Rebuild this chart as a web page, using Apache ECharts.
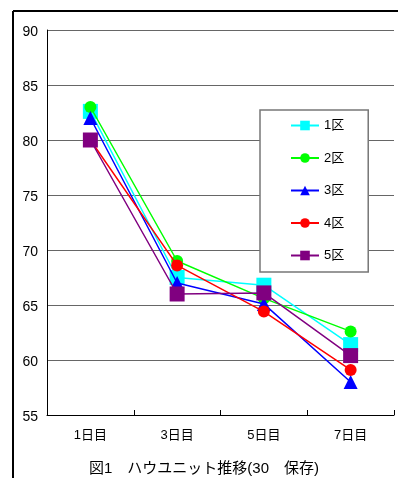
<!DOCTYPE html>
<html><head><meta charset="utf-8">
<script src="https://cdn.jsdelivr.net/npm/echarts@6/dist/echarts.min.js"></script>
<style>html,body{margin:0;padding:0;background:#fff}#c{width:398px;height:478px}</style>
</head><body><div id="c"></div>
<script>
const categories = ['1日目', '3日目', '5日目', '7日目'];
const seriesNames = ['1区', '2区', '3区', '4区', '5区'];
const s1 = [82.6, 67.5, 66.8, 61.4];
const s2 = [83.0, 69.0, 65.6, 62.6];
const s3 = [82.0, 67.0, 65.1, 58.0];
const s4 = [80.0, 68.6, 64.4, 59.1];
const s5 = [80.0, 66.0, 66.1, 60.4];
const yTicks = [55, 60, 65, 70, 75, 80, 85, 90];
const titleText = '図1　ハウユニット推移(30　保存)';

const FONT = "'Liberation Sans','Noto Sans CJK JP',sans-serif";
const colors = ['#00FFFF', '#00FF00', '#0000FF', '#FF0000', '#800080'];
const symbols = ['rect', 'circle', 'triangle', 'circle', 'rect'];
const sizes = [15, 12, 14, 12, 15];
const values = [s1, s2, s3, s4, s5];

const chart = echarts.init(document.getElementById('c'), null, {renderer: 'canvas'});
chart.setOption({
  animation: false,
  backgroundColor: '#fff',
  textStyle: {fontFamily: FONT},
  grid: {left: 47, right: 4, top: 30, bottom: 63},
  legend: {
    orient: 'vertical', left: 260, top: 110,
    backgroundColor: '#fff', borderColor: '#777', borderWidth: 1.5, borderRadius: 0,
    padding: [9, 24, 10, 30], itemGap: 19.5, itemWidth: 28, itemHeight: 12,
    textStyle: {fontFamily: FONT, fontSize: 13, color: '#000'},
    data: seriesNames
  },
  xAxis: {
    type: 'category', data: categories, boundaryGap: true,
    axisLine: {lineStyle: {color: '#000', width: 1}},
    axisTick: {show: true, inside: true, length: 5, interval: 0, lineStyle: {color: '#000'}},
    axisLabel: {fontFamily: FONT, fontSize: 13, color: '#000', margin: 14, interval: 0}
  },
  yAxis: {
    type: 'value', min: yTicks[0], max: yTicks[yTicks.length - 1], interval: 5,
    axisLine: {show: true, lineStyle: {color: '#000', width: 1}},
    axisTick: {show: false},
    axisLabel: {fontFamily: FONT, fontSize: 14, color: '#000', margin: 9, verticalAlign: 'top', padding: [-5, 0, 0, 0]},
    splitLine: {show: true, lineStyle: {color: '#666', width: 1}}
  },
  graphic: [
    {type: 'line', shape: {x1: 13, y1: 11, x2: 398, y2: 11}, style: {stroke: '#000', lineWidth: 2}},
    {type: 'line', shape: {x1: 13, y1: 11, x2: 13, y2: 478}, style: {stroke: '#000', lineWidth: 2}},
    {type: 'text', x: 204, y: 469, style: {text: titleText, font: '15px ' + FONT, fill: '#000', align: 'center', verticalAlign: 'middle'}}
  ],
  series: seriesNames.map((n, i) => ({
    name: n, type: 'line', data: values[i],
    symbol: symbols[i], symbolSize: sizes[i],
    lineStyle: {color: colors[i], width: 1.5},
    itemStyle: {color: colors[i]},
    z: 2 + i
  }))
});
</script></body></html>
